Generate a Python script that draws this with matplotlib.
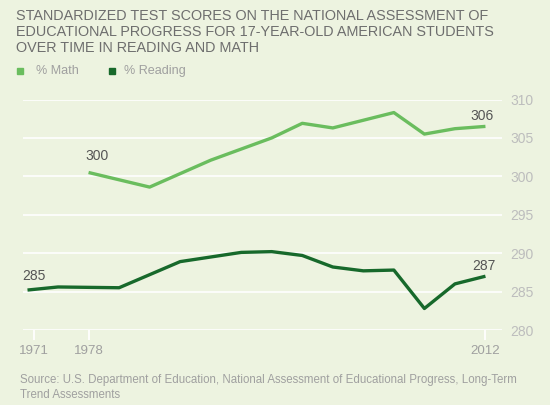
import matplotlib
matplotlib.use("Agg")
import matplotlib.pyplot as plt
from matplotlib.lines import Line2D

# ---- data ----
categories = [1971, 1975, 1978, 1980, 1982, 1984, 1986, 1988, 1990, 1992,
              1994, 1996, 1999, 2004, 2008, 2012]
math_years = [1978, 1982, 1986, 1990, 1992, 1994, 1996, 1999, 2004, 2008, 2012]
math_scores = [300.5, 298.6, 302.1, 305.0, 306.9, 306.3, 307.3, 308.3, 305.5, 306.2, 306.5]
reading_years = [1971, 1975, 1980, 1984, 1988, 1990, 1992, 1994, 1996, 1999, 2004, 2008, 2012]
reading_scores = [285.2, 285.6, 285.5, 288.9, 290.1, 290.2, 289.7, 288.2, 287.7, 287.8, 282.8, 286.0, 287.0]
y_ticks = [280, 285, 290, 295, 300, 305, 310]
x_tick_years = [1971, 1978, 2012]
math_labels = {1978: "300", 2012: "306"}
reading_labels = {1971: "285", 2012: "287"}

title = ("STANDARDIZED TEST SCORES ON THE NATIONAL ASSESSMENT OF\n"
         "EDUCATIONAL PROGRESS FOR 17-YEAR-OLD AMERICAN STUDENTS\n"
         "OVER TIME IN READING AND MATH")
source = ("Source: U.S. Department of Education, National Assessment of Educational Progress, Long-Term\n"
          "Trend Assessments")

# ---- style ----
BG = "#EDF3E0"
MATH_C = "#6ABD5E"
READ_C = "#17692B"
plt.rcParams['font.family'] = ['Liberation Sans', 'DejaVu Sans']

W, H = 550, 405
fig = plt.figure(figsize=(W / 100, H / 100), dpi=100, facecolor=BG)

def fx(px):
    return px / W

def fy(py):
    return 1 - py / H

ax_left, ax_right, ax_top, ax_bot = 23, 502, 99.5, 330
ax = fig.add_axes([fx(ax_left), fy(ax_bot), (ax_right - ax_left) / W, (ax_bot - ax_top) / H])
ax.set_facecolor(BG)

pos = {y: i for i, y in enumerate(categories)}
step = 30.53
x0 = 27.5
ax.set_xlim((ax_left - x0) / step, (ax_right - x0) / step)
ax.set_ylim(280, 310)

for yt in y_ticks:
    ax.axhline(yt, color="white", lw=1.2, zorder=1)

mx = [pos[y] for y in math_years]
rx = [pos[y] for y in reading_years]
ax.plot(mx, math_scores, color=MATH_C, lw=2.4, solid_capstyle='butt', zorder=3, clip_on=False)
ax.plot(rx, reading_scores, color=READ_C, lw=2.4, solid_capstyle='butt', zorder=3, clip_on=False)

for yr, lab in math_labels.items():
    i = math_years.index(yr)
    off = (8, 16) if yr == 1978 else (-3, 10)
    ax.annotate(lab, (pos[yr], math_scores[i]), xytext=off, textcoords='offset pixels',
                ha='center', va='center', fontsize=10, color="#555555")
for yr, lab in reading_labels.items():
    i = reading_years.index(yr)
    off = (6.5, 14) if yr == 1971 else (-2, 10)
    ax.annotate(lab, (pos[yr], reading_scores[i]), xytext=off, textcoords='offset pixels',
                ha='center', va='center', fontsize=10, color="#555555")

for s in ax.spines.values():
    s.set_visible(False)

ax.yaxis.tick_right()
ax.set_yticks(y_ticks)
ax.set_yticklabels([str(v) for v in y_ticks])
ax.tick_params(axis='y', length=0, pad=6, labelsize=10, labelcolor="#BDBDBD")

xt = [pos[y] + (0.2 if y == 1971 else 0) for y in x_tick_years]
ax.set_xticks(xt)
ax.set_xticklabels([str(y) for y in x_tick_years])
ax.tick_params(axis='x', length=7, width=1.3, color="white", pad=4, labelsize=9.6, labelcolor="#A0A0A0")

# title
fig.text(fx(16), fy(9), title, ha='left', va='top', fontsize=10.35, color="#6E6E6E",
         linespacing=1.16)

# legend
for xm, col, lab, xt_ in [(20, MATH_C, "% Math", 36), (112, READ_C, "% Reading", 124)]:
    fig.add_artist(Line2D([fx(xm)], [fy(71)], marker='s', markersize=5, color=col,
                          linestyle='none', transform=fig.transFigure))
    fig.text(fx(xt_), fy(71), lab, ha='left', va='center', fontsize=9.1, color="#A0A0A0")

# source
fig.text(fx(20), fy(374), source, ha='left', va='top', fontsize=8.3, color="#A0A0A0",
         linespacing=1.3)

fig.savefig("out.png", dpi=100, facecolor=BG)
